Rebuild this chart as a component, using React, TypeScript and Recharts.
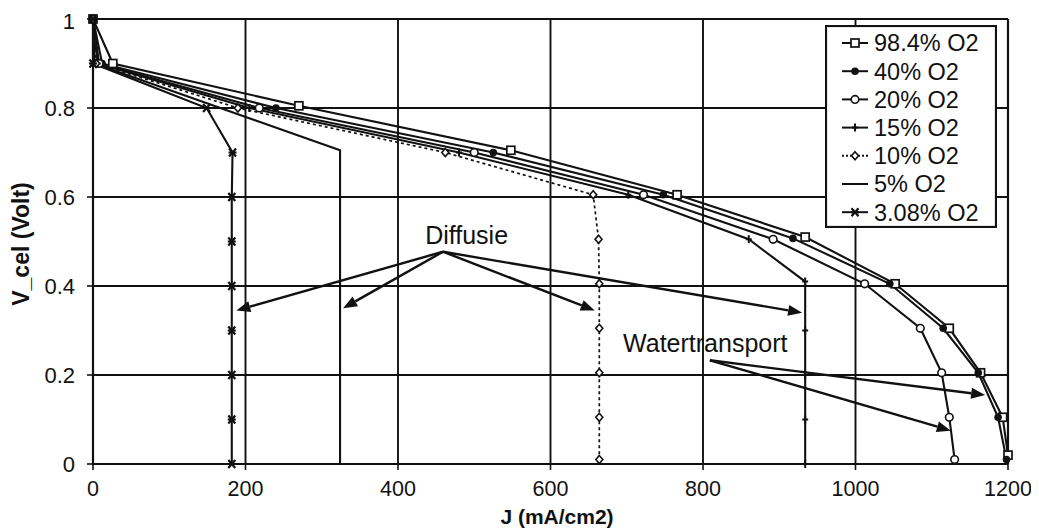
import React from "react";
import {
  LineChart,
  Line,
  XAxis,
  YAxis,
  CartesianGrid,
  ReferenceLine,
  ReferenceDot,
  Legend,
} from "recharts";

// current density J (mA/cm2) and cell voltage (Volt) per oxygen fraction
const J_984 = [0, 26, 270, 548, 766, 934, 1052, 1123, 1164, 1193, 1200];
const V_984 = [1, 0.9, 0.805, 0.705, 0.605, 0.51, 0.405, 0.305, 0.205, 0.105, 0.02];

const J_40 = [0, 12, 240, 525, 748, 918, 1045, 1115, 1161, 1187, 1198];
const V_40 = [1, 0.9, 0.8, 0.7, 0.605, 0.507, 0.405, 0.305, 0.205, 0.105, 0.01];

const J_20 = [0, 8, 218, 500, 722, 892, 1012, 1085, 1113, 1123, 1130];
const V_20 = [1, 0.9, 0.8, 0.7, 0.605, 0.505, 0.405, 0.305, 0.205, 0.105, 0.01];

const J_15 = [0, 6, 205, 480, 702, 860, 934, 934, 934, 934, 934];
const V_15 = [1, 0.9, 0.8, 0.7, 0.605, 0.505, 0.41, 0.3, 0.2, 0.1, 0];

const J_10 = [0, 4, 190, 462, 656, 663, 664, 664, 664, 664, 664];
const V_10 = [1, 0.9, 0.8, 0.7, 0.605, 0.505, 0.405, 0.305, 0.205, 0.105, 0.01];

const J_5 = [0, 2, 324, 324, 324, 324, 324, 324, 324, 324];
const V_5 = [1, 0.9, 0.705, 0.6, 0.5, 0.4, 0.3, 0.2, 0.1, 0];

const J_308 = [0, 0, 149, 183, 182, 182, 182, 182, 182, 182, 182];
const V_308 = [1, 0.9, 0.8, 0.7, 0.6, 0.5, 0.4, 0.3, 0.2, 0.1, 0];

const X_TICKS = [0, 200, 400, 600, 800, 1000, 1200];
const Y_TICKS = [0, 0.2, 0.4, 0.6, 0.8, 1];

// annotation arrows: label anchor and arrow tips
const DIFFUSIE_FROM = { x: 459, y: 0.477 };
const DIFFUSIE_TO = [
  { x: 188, y: 0.345 },
  { x: 328, y: 0.35 },
  { x: 658, y: 0.345 },
  { x: 930, y: 0.34 },
];
const DIFFUSIE_TEXT = { x: 490, y: 0.515 };

const WATER_FROM = { x: 809, y: 0.233 };
const WATER_TO = [
  { x: 1125, y: 0.075 },
  { x: 1170, y: 0.155 },
];
const WATER_TEXT = { x: 803, y: 0.271 };

type Marker = "square" | "dot" | "circle" | "plus" | "diamond" | "none" | "star";

const zip = (j: number[], v: number[]) => j.map((x, i) => ({ j: x, v: v[i] }));

const SERIES: { name: string; data: { j: number; v: number }[]; marker: Marker; dash?: string }[] = [
  { name: "98.4% O2", data: zip(J_984, V_984), marker: "square" },
  { name: "40% O2", data: zip(J_40, V_40), marker: "dot" },
  { name: "20% O2", data: zip(J_20, V_20), marker: "circle" },
  { name: "15% O2", data: zip(J_15, V_15), marker: "plus" },
  { name: "10% O2", data: zip(J_10, V_10), marker: "diamond", dash: "3 3" },
  { name: "5% O2", data: zip(J_5, V_5), marker: "none" },
  { name: "3.08% O2", data: zip(J_308, V_308), marker: "star" },
];

const INK = "#111";
const FONT = "'Liberation Sans', Arial, Helvetica, sans-serif";

function drawMarker(kind: Marker, cx: number, cy: number, key?: string) {
  switch (kind) {
    case "square":
      return <rect key={key} x={cx - 4} y={cy - 4} width={8} height={8} fill="#fff" stroke={INK} strokeWidth={1.7} />;
    case "dot":
      return <circle key={key} cx={cx} cy={cy} r={3.8} fill={INK} />;
    case "circle":
      return <circle key={key} cx={cx} cy={cy} r={3.8} fill="#fff" stroke={INK} strokeWidth={1.6} />;
    case "plus":
      return <path key={key} d={`M${cx},${cy - 4}V${cy + 4}M${cx - 3},${cy}H${cx + 3}`} stroke={INK} strokeWidth={2} />;
    case "diamond":
      return (
        <path
          key={key}
          d={`M${cx},${cy - 4}L${cx + 3.5},${cy}L${cx},${cy + 4}L${cx - 3.5},${cy}Z`}
          fill="#fff"
          stroke={INK}
          strokeWidth={1.6}
        />
      );
    case "star":
      return (
        <path
          key={key}
          d={`M${cx - 3.5},${cy - 4}L${cx + 3.5},${cy + 4}M${cx + 3.5},${cy - 4}L${cx - 3.5},${cy + 4}M${cx - 4},${cy}H${cx + 4}`}
          stroke={INK}
          strokeWidth={2.2}
        />
      );
    default:
      return <g key={key} />;
  }
}

function Arrow(props: any) {
  const { x1, y1, x2, y2 } = props;
  const a = Math.atan2(y2 - y1, x2 - x1);
  const len = 14;
  const half = 5.5;
  const bx = x2 - len * Math.cos(a);
  const by = y2 - len * Math.sin(a);
  const nx = -Math.sin(a) * half;
  const ny = Math.cos(a) * half;
  return (
    <g>
      <line x1={x1} y1={y1} x2={bx} y2={by} stroke={INK} strokeWidth={2.4} />
      <polygon points={`${x2},${y2} ${bx + nx},${by + ny} ${bx - nx},${by - ny}`} fill={INK} />
    </g>
  );
}

function LegendBox() {
  return (
    <svg width={172} height={203} style={{ display: "block" }}>
      <rect x={1} y={1} width={170} height={201} fill="#fff" stroke={INK} strokeWidth={2.2} />
      {SERIES.map((s, i) => {
        const cy = 18 + i * 28.2;
        return (
          <g key={s.name}>
            <line x1={17} y1={cy} x2={43} y2={cy} stroke={INK} strokeWidth={2} strokeDasharray={s.dash ? "2 2" : undefined} />
            {drawMarker(s.marker, 30, cy)}
            <text x={49} y={cy} dy="0.36em" fontSize={23.5} fontFamily={FONT} fill={INK}>
              {s.name}
            </text>
          </g>
        );
      })}
    </svg>
  );
}

const fmtY = (v: number) => (v === 0 || v === 1 ? String(v) : v.toFixed(1));

export default function App() {
  return (
    <div style={{ width: 1023, height: 522, background: "#fff", fontFamily: FONT }}>
      <LineChart width={1023} height={522} margin={{ top: 11, right: 23, left: 0, bottom: 0 }}>
        <CartesianGrid stroke={INK} strokeWidth={1.9} />
        <XAxis
          type="number"
          dataKey="j"
          domain={[0, 1200]}
          ticks={X_TICKS}
          height={66}
          tickSize={6}
          tickMargin={11}
          tick={{ fill: INK, fontSize: 21.5, fontFamily: FONT }}
          axisLine={{ stroke: INK, strokeWidth: 2.2 }}
          tickLine={{ stroke: INK, strokeWidth: 1.6 }}
          label={{
            content: () => (
              <text x={549} y={508} textAnchor="middle" dominantBaseline="central" fontSize={21} fontWeight="bold" fontFamily={FONT} fill={INK}>
                J (mA/cm2)
              </text>
            ),
          }}
        />
        <YAxis
          type="number"
          domain={[0, 1]}
          ticks={Y_TICKS}
          tickFormatter={fmtY}
          width={85}
          tickSize={6}
          tickMargin={12}
          tick={{ fill: INK, fontSize: 22, fontFamily: FONT }}
          axisLine={{ stroke: INK, strokeWidth: 2.2 }}
          tickLine={{ stroke: INK, strokeWidth: 1.6 }}
          label={{
            content: () => (
              <text
                x={13}
                y={236}
                transform="rotate(-90 13 236)"
                textAnchor="middle"
                dominantBaseline="central"
                fontSize={23}
                fontWeight="bold"
                fontFamily={FONT}
                fill={INK}
              >
                V_cel (Volt)
              </text>
            ),
          }}
        />
        <ReferenceLine y={1} stroke={INK} strokeWidth={2.2} />
        <ReferenceLine x={1200} stroke={INK} strokeWidth={2.2} />

        {SERIES.map((s) => (
          <Line
            key={s.name}
            name={s.name}
            data={s.data}
            dataKey="v"
            type="linear"
            stroke={INK}
            strokeWidth={s.dash ? 1.7 : 2.1}
            strokeDasharray={s.dash}
            isAnimationActive={false}
            dot={(p: any) => drawMarker(s.marker, p.cx, p.cy, `${s.name}-${p.index}`)}
            activeDot={false}
          />
        ))}

        {DIFFUSIE_TO.map((t, i) => (
          <ReferenceLine key={`d${i}`} segment={[DIFFUSIE_FROM, t]} shape={Arrow} />
        ))}
        {WATER_TO.map((t, i) => (
          <ReferenceLine key={`w${i}`} segment={[WATER_FROM, t]} shape={Arrow} />
        ))}
        <ReferenceDot
          x={DIFFUSIE_TEXT.x}
          y={DIFFUSIE_TEXT.y}
          r={0}
          stroke="none"
          label={{ value: "Diffusie", position: "center", fontSize: 25, fill: INK, fontFamily: FONT }}
        />
        <ReferenceDot
          x={WATER_TEXT.x}
          y={WATER_TEXT.y}
          r={0}
          stroke="none"
          label={{ value: "Watertransport", position: "center", fontSize: 25, fill: INK, fontFamily: FONT }}
        />

        <Legend
          layout="horizontal"
          verticalAlign="middle"
          align="center"
          content={LegendBox}
          wrapperStyle={{ left: 817, top: 17, width: 172, height: 203 }}
        />
      </LineChart>
    </div>
  );
}
